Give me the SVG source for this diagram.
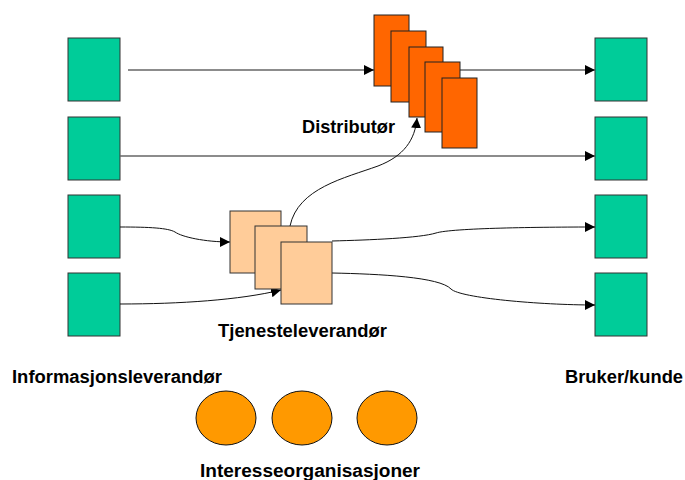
<svg xmlns="http://www.w3.org/2000/svg" width="685" height="480" viewBox="0 0 685 480">
  <style>
    .src { fill: #00CC99; stroke: #333; stroke-width: 1; }
    .dist { fill: #FF6600; stroke: #222; stroke-width: 1; }
    .svc { fill: #FFCC99; stroke: #333; stroke-width: 1; }
    .org { fill: #FF9900; stroke: #111; stroke-width: 1; }
    .line { fill: none; stroke: #666; stroke-width: 1.3; }
    .curve { fill: none; stroke: #111; stroke-width: 1; }
    .lbl { font-family: "Liberation Sans", Arial, sans-serif; font-weight: bold; font-size: 18px; fill: #000; }
  </style>
  <defs>
    <marker id="arrow" viewBox="0 0 10 10" refX="10" refY="5" markerWidth="10" markerHeight="10" markerUnits="userSpaceOnUse" orient="auto">
      <path d="M0,0 L10,5 L0,10 z" fill="#000"/>
    </marker>
  </defs>

  <!-- information providers (left column) -->
  <g id="info1"><rect class="src" x="68" y="38" width="52" height="63"/></g>
  <g id="info2"><rect class="src" x="68" y="117" width="52" height="63"/></g>
  <g id="info3"><rect class="src" x="68" y="195" width="52" height="63"/></g>
  <g id="info4"><rect class="src" x="68" y="273" width="52" height="63"/></g>

  <!-- users / customers (right column) -->
  <g id="user1"><rect class="src" x="595" y="38" width="52" height="63"/></g>
  <g id="user2"><rect class="src" x="595" y="117" width="52" height="63"/></g>
  <g id="user3"><rect class="src" x="595" y="195" width="52" height="63"/></g>
  <g id="user4"><rect class="src" x="595" y="273" width="52" height="63"/></g>

  <!-- connectors -->
  <g id="connectors">
    <path class="line" d="M128,70 L374,70" marker-end="url(#arrow)"/>
    <path class="line" d="M460,70 L595,70" marker-end="url(#arrow)"/>
    <path class="line" d="M120,156 L595,156" marker-end="url(#arrow)"/>
    <path class="curve" d="M120,227 C150,227 168,228 175,232 C182,237 205,242 230,242" marker-end="url(#arrow)"/>
    <path class="curve" d="M120,304 C180,304 240,300 281,290" marker-end="url(#arrow)"/>
    <path class="curve" d="M290,226 C298,188 345,178 378,166 C404,156 415,140 417,118" marker-end="url(#arrow)"/>
    <path class="curve" d="M332,241 C370,240 420,238 436,233 C452,228 540,227 595,227" marker-end="url(#arrow)"/>
    <path class="curve" d="M332,273 C380,274 440,277 451,289 C460,298 540,305 595,305" marker-end="url(#arrow)"/>
  </g>

  <!-- distributor stack -->
  <g id="distributor">
    <rect class="dist" x="374" y="15" width="35" height="71"/>
    <rect class="dist" x="391" y="31" width="35" height="71"/>
    <rect class="dist" x="409" y="47" width="34" height="70"/>
    <rect class="dist" x="425" y="62" width="35" height="70"/>
    <rect class="dist" x="442" y="78" width="35" height="70"/>
    <text class="lbl" x="302" y="133" textLength="93" lengthAdjust="spacingAndGlyphs">Distributør</text>
  </g>

  <!-- service provider stack -->
  <g id="serviceprovider">
    <rect class="svc" x="230" y="211" width="51" height="62"/>
    <rect class="svc" x="255" y="226" width="52" height="63"/>
    <rect class="svc" x="281" y="242" width="51" height="62"/>
    <text class="lbl" x="218" y="337" textLength="169" lengthAdjust="spacingAndGlyphs">Tjenesteleverandør</text>
  </g>

  <!-- interest organisations -->
  <g id="organisations">
    <ellipse class="org" cx="226" cy="418" rx="30" ry="27"/>
    <ellipse class="org" cx="302" cy="418" rx="30" ry="27"/>
    <ellipse class="org" cx="387" cy="418" rx="30" ry="27"/>
    <text class="lbl" x="200" y="477" textLength="220" lengthAdjust="spacingAndGlyphs">Interesseorganisasjoner</text>
  </g>

  <!-- column labels -->
  <g id="labels">
    <text class="lbl" x="12" y="383" textLength="210" lengthAdjust="spacingAndGlyphs">Informasjonsleverandør</text>
    <text class="lbl" x="565" y="383" textLength="118" lengthAdjust="spacingAndGlyphs">Bruker/kunde</text>
  </g>
</svg>
